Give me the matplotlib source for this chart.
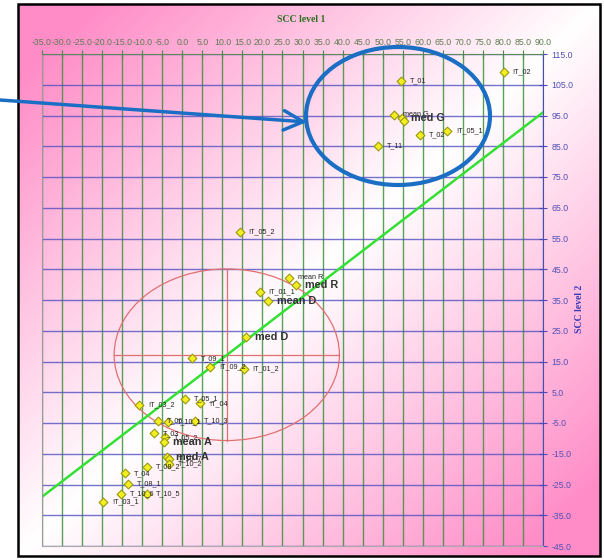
"SCC level 1 vs SCC level 2 scatter"
import numpy as np
import matplotlib.pyplot as plt
from matplotlib.patches import Ellipse, Rectangle

plt.rcParams['font.family'] = ['Liberation Sans', 'DejaVu Sans']

"data read off the chart"
names = ["T_01", "!T_02", "mean G", "med G", "", "T_02", "!T_05_1", "T_11",
         "!T_05_2", "mean R", "med R", "!T_01_1", "mean D", "med D",
         "T_09_1", "!T_09_2", "!T_01_2", "!T_03_2", "T_05_1", "!T_04",
         "T_06", "T_10_1", "T_10_3", "T_03", "T_05_2", "mean A", "med A",
         "T_10_7", "T_10_2", "T_08_2", "T_04", "T_08_1", "T_10_6", "T_10_5",
         "!T_03_1"]
level1 = [54.5, 80.2, 52.8, 54.9, 55.2, 59.25, 66.0, 48.8,
          14.3, 26.6, 28.4, 19.3, 21.3, 16.0,
          2.5, 7.0, 15.3, -10.8, 0.6, 4.5,
          -6.1, -3.5, 3.25, -7.1, -4.4, -4.6, -3.9,
          -3.4, -3.3, -8.9, -14.25, -13.5, -15.4, -8.75,
          -19.7]
level2 = [106.2, 109.2, 95.2, 94.1, 93.2, 88.6, 89.9, 85.2,
          57.2, 42.3, 39.8, 37.6, 34.8, 23.1,
          16.0, 13.3, 12.5, 1.0, 2.9, 1.4,
          -4.3, -4.6, -4.3, -8.4, -9.7, -11.3, -16.2,
          -16.6, -18.3, -19.3, -21.4, -24.8, -28.1, -28.1,
          -30.6]
big_labels = ["med G", "med R", "mean D", "med D", "mean A", "med A"]

"trend line"
line_x = [-35.0, 90.0]
line_y = [-29.0, 96.0]

"red ellipse with cross"
ell_cx, ell_cy = 11.1, 17.2
ell_rx, ell_ry = 28.1, 27.9

xticks = np.arange(-35, 91, 5)
yticks = np.arange(-45, 116, 10)

"figure + gradient background"
W, H = 604, 560
fig = plt.figure(figsize=(W / 100, H / 100), dpi=100)

bg = fig.add_axes([0, 0, 1, 1])
bg.set_xlim(0, W)
bg.set_ylim(H, 0)
bg.axis("off")
u, v = np.meshgrid(np.linspace(0, 1, 300), np.linspace(0, 1, 280))
t = np.clip(np.abs(u + v - 1) * 1.15, 0, 1)
pink = np.array([1.0, 0.55, 0.78])
img = 1 - t[..., None] * (1 - pink)
bg.imshow(img, extent=(18, 600, 556, 4), aspect="auto")
bg.add_patch(Rectangle((18, 4), 582, 552, fill=False, ec="black", lw=1.8))

"main axes"
ax = fig.add_axes([42 / W, 1 - 546 / H, 501 / W, 492 / H])
ax.patch.set_alpha(0)
ax.set_xlim(-35, 90)
ax.set_ylim(-45, 115)

ax.set_xticks(xticks)
ax.set_xticklabels([f"{v:.1f}" for v in xticks])
ax.set_yticks(yticks)
ax.set_yticklabels([f"{v:.1f}" for v in yticks])
ax.xaxis.tick_top()
ax.yaxis.tick_right()
ax.tick_params(axis="x", direction="inout", length=6, color="#4a8a4a",
               labelcolor="#5e7d52", labelsize=6.3, pad=2)
ax.tick_params(axis="y", direction="inout", length=6, color="#4a4ab8",
               labelcolor="#5050b5", labelsize=6.3, pad=3)

ax.set_axisbelow(True)
ax.grid(axis="x", color="#3f8f3f", lw=1, alpha=0.85)
ax.grid(axis="y", color="#5050c0", lw=1, alpha=0.8)

ax.spines["top"].set_color("#5a8a5a")
ax.spines["right"].set_color("#4a4ab8")
ax.spines["left"].set_color("#9a9a9a")
ax.spines["bottom"].set_color("#aaaaaa")

"ellipse + cross"
ax.add_patch(Ellipse((ell_cx, ell_cy), 2 * ell_rx, 2 * ell_ry,
                     fill=False, ec="#e07070", lw=0.9))
ax.plot([ell_cx, ell_cx], [ell_cy - ell_ry, ell_cy + ell_ry], color="#e07070", lw=0.9)
ax.plot([ell_cx - ell_rx, ell_cx + ell_rx], [ell_cy, ell_cy], color="#e07070", lw=0.9)

"green line"
ax.plot(line_x, line_y, color="#33e033", lw=1.8)

"points"
ax.scatter(level1, level2, marker="D", s=20, facecolor="#f2ee22",
           edgecolor="#9a9a10", lw=0.8, zorder=5)
for n, x, y in zip(names, level1, level2):
    if n in big_labels:
        ax.annotate(n, (x, y), xytext=(6.5, 0), textcoords="offset points",
                    va="center", fontsize=7.8, fontweight="bold", color="#333333", zorder=6)
    else:
        ax.annotate(n, (x, y), xytext=(6.5, 0), textcoords="offset points",
                    va="center", fontsize=5.2, color="#222222", zorder=6)

"axis titles"
fig.text(301 / W, 1 - 20 / H, "SCC level 1", ha="center", va="center",
         family="Liberation Serif", fontweight="bold", fontsize=7, color="#2d6e1e")
fig.text(579 / W, 1 - 309 / H, "SCC level 2", ha="center", va="center", rotation=90,
         family="Liberation Serif", fontweight="bold", fontsize=7, color="#3a3ab5")

"blue hand-drawn highlight"
top = fig.add_axes([0, 0, 1, 1], zorder=10)
top.set_xlim(0, W)
top.set_ylim(H, 0)
top.axis("off")
top.add_patch(Ellipse((398, 116), 184, 138, fill=False, ec="#1a6fc4", lw=3))
top.annotate("", xy=(307, 122), xytext=(0, 100),
             arrowprops=dict(arrowstyle="->,head_length=1.4,head_width=0.7",
                             color="#1a6fc4", lw=2.5, shrinkA=0, shrinkB=0))

plt.savefig("out.png", dpi=100)
